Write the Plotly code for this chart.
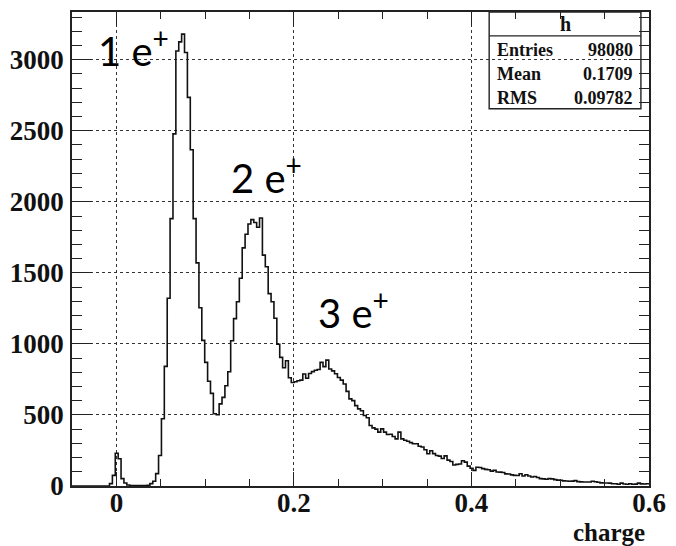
import numpy as np
import plotly.graph_objects as go

# Histogram definition (200 bins from -0.05 to 0.6)
x_min, x_max, n_bins = -0.05, 0.6, 200

counts = [
    0, 0, 0, 0, 0, 0, 0, 0, 0, 0,
    0, 0, 0, 17, 75, 231, 192, 52, 21, 7,
    4, 4, 3, 3, 3, 4, 5, 17, 33, 87,
    215, 473, 842, 1321, 1882, 2478, 3062, 3126, 3180, 3051,
    2735, 2366, 1882, 1570, 1255, 1025, 870, 737, 652, 508,
    501, 578, 624, 706, 804, 1022, 1178, 1297, 1462, 1676,
    1772, 1844, 1875, 1855, 1821, 1886, 1625, 1543, 1354, 1297,
    1181, 998, 905, 832, 881, 762, 728, 734, 741, 745,
    788, 758, 792, 805, 815, 820, 870, 840, 886, 823,
    810, 790, 764, 745, 718, 666, 613, 601, 566, 543,
    530, 496, 480, 426, 409, 400, 379, 402, 379, 362,
    364, 348, 332, 379, 332, 322, 315, 305, 297, 297,
    280, 274, 255, 227, 248, 228, 215, 210, 194, 212,
    182, 172, 148, 152, 155, 178, 168, 140, 125, 110,
    132, 130, 122, 117, 114, 105, 110, 99, 98, 95,
    85, 84, 78, 75, 74, 86, 70, 79, 70, 63,
    67, 60, 52, 50, 47, 52, 50, 45, 41, 40,
    36, 35, 33, 34, 38, 31, 29, 28, 28, 28,
    33, 30, 26, 22, 21, 21, 20, 16, 16, 12,
    20, 14, 12, 16, 12, 13, 20, 15, 14, 16,
]

x_tickvals = [0, 0.2, 0.4, 0.6]
x_ticktext = ["0", "0.2", "0.4", "0.6"]
y_tickvals = [0, 500, 1000, 1500, 2000, 2500, 3000]
y_ticktext = ["0", "500", "1000", "1500", "2000", "2500", "3000"]

stats_labels = ["Entries", "Mean", "RMS"]
stats_values = ["98080", "0.1709", "0.09782"]
hist_name = "h"
x_title = "charge"
peak_labels = ["1 e<sup>+</sup>", "2 e<sup>+</sup>", "3 e<sup>+</sup>"]
peak_pos = [(-0.0235, 3085), (0.127, 2190), (0.2245, 1240)]

edges = np.linspace(x_min, x_max, n_bins + 1)
y_steps = list(counts) + [counts[-1]]

fig = go.Figure()
fig.add_trace(go.Scatter(
    x=edges, y=y_steps, mode="lines", line_shape="hv",
    line=dict(color="#111111", width=1.6), hoverinfo="skip", showlegend=False,
))

serif = "Liberation Serif"
axis_common = dict(
    showline=True, linecolor="#222222", linewidth=1.6, mirror="allticks",
    ticks="inside", tickcolor="#222222", tickwidth=1.4,
    showgrid=True, gridcolor="#333333", gridwidth=1, griddash="dot",
    zeroline=False,
    tickfont=dict(family=serif, size=27, color="#111111", weight="bold"),
)

fig.update_xaxes(
    range=[x_min, x_max], tickvals=x_tickvals, ticktext=x_ticktext,
    ticklen=14,
    minor=dict(dtick=0.05, tick0=0, ticklen=7, ticks="inside",
               tickcolor="#222222", tickwidth=1.4, showgrid=False),
    ticklabelstandoff=-8,
    **axis_common,
)
fig.update_yaxes(
    range=[0, 3336], tickvals=y_tickvals, ticktext=y_ticktext,
    ticklen=20,
    minor=dict(dtick=100, tick0=0, ticklen=10, ticks="inside",
               tickcolor="#222222", tickwidth=1.4, showgrid=False),
    ticklabelstandoff=1,
    **axis_common,
)

# stats box
bx0, bx1, by0, by1, bdiv = 0.723, 0.986, 0.796, 1.0, 0.9496
fig.add_shape(type="rect", xref="paper", yref="paper", x0=bx0, x1=bx1, y0=by0, y1=by1,
              line=dict(color="#222222", width=1.4), fillcolor="white", layer="between")
fig.add_shape(type="line", xref="paper", yref="paper", x0=bx0, x1=bx1, y0=bdiv, y1=bdiv,
              line=dict(color="#222222", width=1.4), layer="between")

annotations = []
sfont = dict(family=serif, size=18, color="#111111", weight="bold")
annotations.append(dict(xref="paper", yref="paper", x=(bx0 + bx1) / 2, y=0.975,
                        text=hist_name, showarrow=False,
                        font=dict(family=serif, size=20, color="#111111", weight="bold"),
                        xanchor="center", yanchor="middle"))
row_y = [0.920, 0.870, 0.819]
for lab, val, yy in zip(stats_labels, stats_values, row_y):
    annotations.append(dict(xref="paper", yref="paper", x=bx0 + 0.01, y=yy, text=lab,
                            showarrow=False, font=sfont, xanchor="left", yanchor="middle"))
    annotations.append(dict(xref="paper", yref="paper", x=bx1 - 0.01, y=yy, text=val,
                            showarrow=False, font=sfont, xanchor="right", yanchor="middle"))

for txt, (px, py) in zip(peak_labels, peak_pos):
    annotations.append(dict(xref="x", yref="y", x=px, y=py, text=txt, showarrow=False,
                            font=dict(family="Lato", size=40, color="black"),
                            xanchor="left", yanchor="middle"))

annotations.append(dict(xref="paper", yref="paper", x=0.997, y=-0.098, text=x_title,
                        showarrow=False,
                        font=dict(family=serif, size=25, color="#111111", weight="bold"),
                        xanchor="right", yanchor="middle"))

fig.update_layout(
    width=676, height=546,
    margin=dict(l=72, r=19, t=10, b=60),
    paper_bgcolor="white", plot_bgcolor="white",
    annotations=annotations, showlegend=False,
)

fig.write_html("out.html")
